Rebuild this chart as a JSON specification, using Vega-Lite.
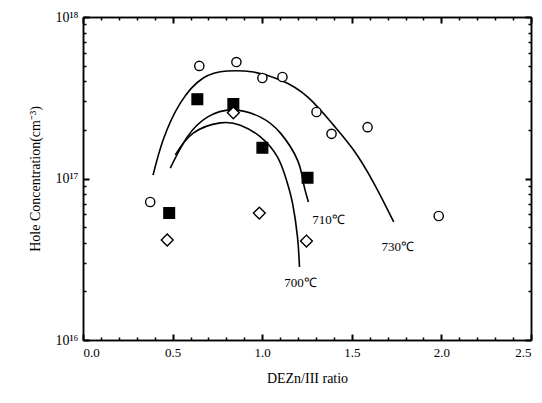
{
  "$schema": "https://vega.github.io/schema/vega-lite/v6.json",
  "width": 448,
  "height": 323,
  "autosize": "none",
  "padding": {"left": 83, "top": 17, "right": 11, "bottom": 63},
  "config": {
    "view": {"stroke": null},
    "axis": {"domainColor": "black", "domainWidth": 1.5, "gridOpacity": 0, "ticks": true, "tickColor": "black", "tickWidth": 2, "tickOpacity": 1}
  },
  "data": {"values": [
      {"kind": "curve", "series": "730", "x": 0.391, "y": 1.05e17},
      {"kind": "curve", "series": "730", "x": 0.447, "y": 1.73e17},
      {"kind": "curve", "series": "730", "x": 0.543, "y": 2.93e17},
      {"kind": "curve", "series": "730", "x": 0.671, "y": 4.19e17},
      {"kind": "curve", "series": "730", "x": 0.805, "y": 4.63e17},
      {"kind": "curve", "series": "730", "x": 0.951, "y": 4.56e17},
      {"kind": "curve", "series": "730", "x": 1.102, "y": 4.07e17},
      {"kind": "curve", "series": "730", "x": 1.253, "y": 3.2e17},
      {"kind": "curve", "series": "730", "x": 1.398, "y": 2.14e17},
      {"kind": "curve", "series": "730", "x": 1.51, "y": 1.5e17},
      {"kind": "curve", "series": "730", "x": 1.622, "y": 9.4e16},
      {"kind": "curve", "series": "730", "x": 1.734, "y": 5.38e16},
      {"kind": "curve", "series": "710", "x": 0.487, "y": 1.16e17},
      {"kind": "curve", "series": "710", "x": 0.582, "y": 1.81e17},
      {"kind": "curve", "series": "710", "x": 0.694, "y": 2.4e17},
      {"kind": "curve", "series": "710", "x": 0.839, "y": 2.66e17},
      {"kind": "curve", "series": "710", "x": 0.99, "y": 2.4e17},
      {"kind": "curve", "series": "710", "x": 1.102, "y": 1.91e17},
      {"kind": "curve", "series": "710", "x": 1.197, "y": 1.3e17},
      {"kind": "curve", "series": "710", "x": 1.23, "y": 9.4e16},
      {"kind": "curve", "series": "710", "x": 1.258, "y": 7.15e16},
      {"kind": "curve", "series": "700", "x": 0.515, "y": 1.4e17},
      {"kind": "curve", "series": "700", "x": 0.615, "y": 1.91e17},
      {"kind": "curve", "series": "700", "x": 0.766, "y": 2.21e17},
      {"kind": "curve", "series": "700", "x": 0.878, "y": 2.14e17},
      {"kind": "curve", "series": "700", "x": 0.99, "y": 1.81e17},
      {"kind": "curve", "series": "700", "x": 1.085, "y": 1.36e17},
      {"kind": "curve", "series": "700", "x": 1.135, "y": 9.8e16},
      {"kind": "curve", "series": "700", "x": 1.169, "y": 7.05e16},
      {"kind": "curve", "series": "700", "x": 1.197, "y": 4.34e16},
      {"kind": "curve", "series": "700", "x": 1.208, "y": 2.83e16},
      {"kind": "point", "series": "730", "x": 0.375, "y": 7.15e16},
      {"kind": "point", "series": "730", "x": 0.649, "y": 4.98e17},
      {"kind": "point", "series": "730", "x": 0.856, "y": 5.26e17},
      {"kind": "point", "series": "730", "x": 1.001, "y": 4.19e17},
      {"kind": "point", "series": "730", "x": 1.113, "y": 4.25e17},
      {"kind": "point", "series": "730", "x": 1.303, "y": 2.58e17},
      {"kind": "point", "series": "730", "x": 1.387, "y": 1.89e17},
      {"kind": "point", "series": "730", "x": 1.588, "y": 2.08e17},
      {"kind": "point", "series": "730", "x": 1.985, "y": 5.86e16},
      {"kind": "point", "series": "710", "x": 0.481, "y": 6.11e16},
      {"kind": "point", "series": "710", "x": 0.638, "y": 3.1e17},
      {"kind": "point", "series": "710", "x": 0.839, "y": 2.89e17},
      {"kind": "point", "series": "710", "x": 1.001, "y": 1.55e17},
      {"kind": "point", "series": "710", "x": 1.253, "y": 1.01e17},
      {"kind": "point", "series": "700", "x": 0.47, "y": 4.16e16},
      {"kind": "point", "series": "700", "x": 0.839, "y": 2.55e17},
      {"kind": "point", "series": "700", "x": 0.984, "y": 6.11e16},
      {"kind": "point", "series": "700", "x": 1.247, "y": 4.1e16},
      {"kind": "label", "text": "710℃", "x": 1.37, "y": 5.53e16},
      {"kind": "label", "text": "730℃", "x": 1.756, "y": 3.77e16},
      {"kind": "label", "text": "700℃", "x": 1.214, "y": 2.25e16}
  ]},
  "resolve": {"axis": {"x": "independent", "y": "independent"}},
  "layer": [
    {
      "transform": [{"filter": "datum.kind == 'curve'"}],
      "mark": {"type": "line", "color": "black", "strokeWidth": 1.6, "interpolate": "natural"},
      "encoding": {
        "detail": {"field": "series"},
        "x": {"field": "x", "type": "quantitative", "scale": {"domain": [0, 2.5], "nice": false, "zero": false},
          "axis": {"orient": "bottom", "title": "DEZn/III ratio", "titlePadding": 12,
            "values": [0, 0.5, 1, 1.5, 2, 2.5], "format": ".1f",
            "labelFont": "Liberation Serif", "labelFontSize": 13, "labelColor": "black",
            "titleFont": "Liberation Serif", "titleFontSize": 14, "titleFontWeight": "normal", "titleColor": "black",
            "labelPadding": 12, "ticks": true, "tickSize": -6, "tickColor": "black", "tickWidth": 2}},
        "y": {"field": "y", "type": "quantitative", "scale": {"type": "log", "domain": [1e16, 1e18], "nice": false},
          "axis": {"orient": "left", "title": "Hole Concentration(cm⁻³)", "titlePadding": 12,
            "values": [1e16, 1e17, 1e18],
            "labelExpr": "datum.value == 1e16 ? '10¹⁶' : datum.value == 1e17 ? '10¹⁷' : '10¹⁸'",
            "labelFont": "Liberation Serif", "labelFontSize": 14, "labelColor": "black",
            "titleFont": "Liberation Serif", "titleFontSize": 14, "titleFontWeight": "normal", "titleColor": "black",
            "labelPadding": 11, "ticks": true, "tickSize": -6, "tickColor": "black", "tickWidth": 2}}
      }
    },
    {
      "transform": [{"filter": "datum.kind == 'point'"}],
      "mark": {"type": "point", "filled": false, "strokeWidth": 1.4, "opacity": 1},
      "encoding": {
        "x": {"field": "x", "type": "quantitative", "axis": {"orient": "bottom", "title": null, "labels": false, "ticks": true, "values": [0.1,0.2,0.3,0.4,0.6,0.7,0.8,0.9,1.1,1.2,1.3,1.4,1.6,1.7,1.8,1.9,2.1,2.2,2.3,2.4], "tickSize": -3, "tickColor": "black", "tickWidth": 1.5}},
        "y": {"field": "y", "type": "quantitative", "axis": {"orient": "left", "title": null, "labels": false, "ticks": true, "values": [2e16,3e16,4e16,5e16,6e16,7e16,8e16,9e16,2e17,3e17,4e17,5e17,6e17,7e17,8e17,9e17], "tickSize": -3, "tickColor": "black", "tickWidth": 1.5}},
        "shape": {"field": "series", "type": "nominal", "scale": {"domain": ["730", "710", "700"], "range": ["circle", "square", "diamond"]}, "legend": null},
        "fill": {"field": "series", "type": "nominal", "scale": {"domain": ["730", "710", "700"], "range": ["white", "black", "white"]}, "legend": null},
        "stroke": {"value": "black"},
        "size": {"field": "series", "type": "nominal", "scale": {"domain": ["730", "710", "700"], "range": [85, 140, 55]}, "legend": null}
      }
    },
    {
      "transform": [{"filter": "datum.kind == 'label'"}],
      "mark": {"type": "text", "font": "Liberation Serif", "fontSize": 13, "color": "black"},
      "encoding": {
        "x": {"field": "x", "type": "quantitative", "axis": null},
        "y": {"field": "y", "type": "quantitative", "axis": null},
        "text": {"field": "text"}
      }
    },
    {
      "transform": [{"filter": "datum.kind == 'point'"}],
      "mark": {"type": "point", "opacity": 0},
      "encoding": {
        "x": {"field": "x", "type": "quantitative",
          "axis": {"orient": "top", "title": null, "labels": false, "ticks": true, "values": [0, 0.5, 1, 1.5, 2, 2.5], "tickSize": -6, "tickColor": "black", "tickWidth": 2}},
        "y": {"field": "y", "type": "quantitative",
          "axis": {"orient": "right", "title": null, "labels": false, "ticks": true, "values": [1e16, 1e17, 1e18], "tickSize": -6, "tickColor": "black", "tickWidth": 2}}
      }
    },
    {
      "transform": [{"filter": "datum.kind == 'point'"}],
      "mark": {"type": "point", "opacity": 0},
      "encoding": {
        "x": {"field": "x", "type": "quantitative",
          "axis": {"orient": "top", "title": null, "labels": false, "ticks": true, "values": [0.1,0.2,0.3,0.4,0.6,0.7,0.8,0.9,1.1,1.2,1.3,1.4,1.6,1.7,1.8,1.9,2.1,2.2,2.3,2.4], "tickSize": -3, "tickColor": "black", "tickWidth": 1.5}},
        "y": {"field": "y", "type": "quantitative",
          "axis": {"orient": "right", "title": null, "labels": false, "ticks": true, "values": [2e16,3e16,4e16,5e16,6e16,7e16,8e16,9e16,2e17,3e17,4e17,5e17,6e17,7e17,8e17,9e17], "tickSize": -3, "tickColor": "black", "tickWidth": 1.5}}
      }
    }
  ]
}
